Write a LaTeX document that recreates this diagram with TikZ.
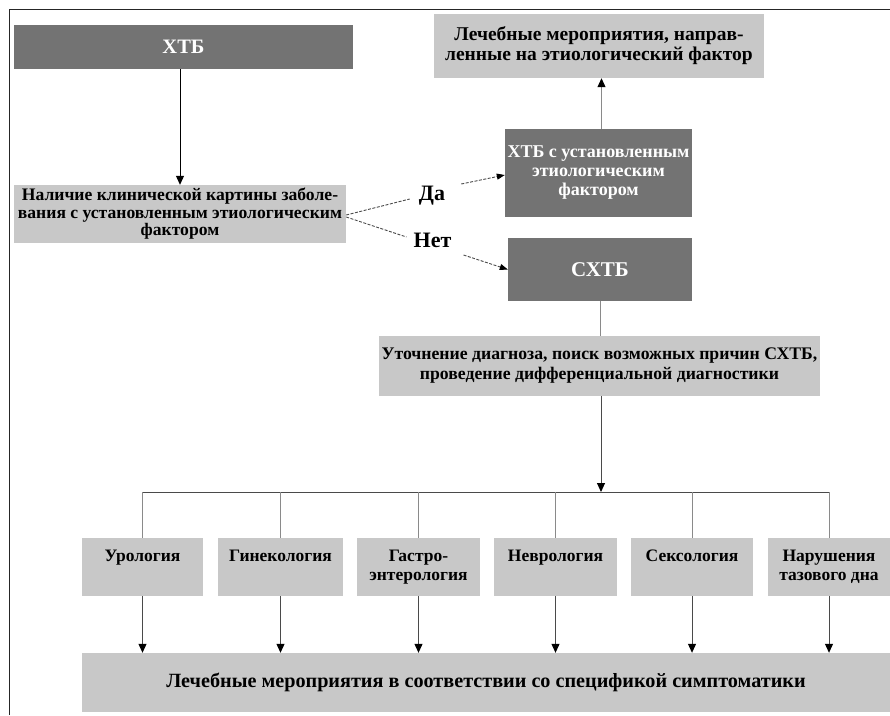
\documentclass[tikz,border=0pt]{standalone}
\usepackage{fontspec}
\setmainfont{Liberation Serif}
\usetikzlibrary{arrows.meta}
\definecolor{dk}{HTML}{737373}
\definecolor{lt}{HTML}{C8C8C8}
\definecolor{ln}{HTML}{4A4A4A}
\definecolor{lg}{HTML}{8A8A8A}
\newcommand{\fs}[2]{\fontsize{#1}{#2}\selectfont\bfseries}
\begin{document}
\begin{tikzpicture}[x=1pt,y=-1pt,
 box/.style={rectangle, inner sep=0pt, align=center, font=\fs{17.5}{19.5}},
 darkbox/.style={box, fill=dk, text=white},
 lightbox/.style={box, fill=lt, text=black},
 lab/.style={inner sep=2pt, font=\fs{22}{24}},
 conn/.style={draw=ln, line width=1pt},
 arr/.style={conn, -{Triangle[length=9pt,width=8pt,color=black]}},
 dsh/.style={draw=ln, line width=0.9pt, dash pattern=on 3pt off 1.5pt},
 dsharr/.style={dsh, -{Triangle[length=8pt,width=6pt,color=black]}},
]
\useasboundingbox (0,0) rectangle (890,715);
\draw[line width=1pt, draw=black!85] (9,715) -- (9,9) -- (890,9);

\node[darkbox, minimum width=339pt, minimum height=44pt, font=\fs{20.5}{22}] (xtb) at (183.5,47) {ХТБ};
\node[lightbox, minimum width=330pt, minimum height=64pt, font=\fs{19.5}{20}] (top) at (599,46) {Лечебные мероприятия, направ-\\ленные на этиологический фактор};
\node[darkbox, minimum width=187pt, minimum height=88pt, font=\fs{18}{19}] (xtbs) at (598.5,173) {ХТБ с установленным\\этиологическим\\фактором};
\node[lightbox, minimum width=332pt, minimum height=58pt, font=\fs{17.6}{17.5}] (nal) at (180,214) {Наличие клинической картины заболе-\\вания с установленным этиологическим\\фактором};
\node[darkbox, minimum width=184pt, minimum height=63pt, font=\fs{21}{22}] (sxtb) at (600,269.5) {СХТБ};
\node[lightbox, minimum width=441pt, minimum height=60pt, font=\fs{17.7}{20}] (ut) at (599.5,366) {Уточнение диагноза, поиск возможных причин СХТБ,\\проведение дифференциальной диагностики};

\node[lab] (da) at (432,196) {Да};
\node[lab] (net) at (432.5,240) {Нет};

\node[lightbox, minimum width=121pt, minimum height=58pt] (uro) at (142.5,567) {\strut Урология\\\strut};
\node[lightbox, minimum width=125pt, minimum height=58pt] (gin) at (280.5,567) {\strut Гинекология\\\strut};
\node[lightbox, minimum width=123pt, minimum height=58pt] (gas) at (418.5,567) {\strut Гастро-\\\strut энтерология};
\node[lightbox, minimum width=123pt, minimum height=58pt] (nev) at (555.5,567) {\strut Неврология\\\strut};
\node[lightbox, minimum width=122pt, minimum height=58pt] (sex) at (692,567) {\strut Сексология\\\strut};
\node[lightbox, minimum width=122pt, minimum height=58pt] (nar) at (829,567) {\strut Нарушения\\\strut тазового дна};
\node[lightbox, minimum width=808pt, minimum height=59pt, font=\fs{20.2}{22}] (bot) at (486,682.5) {Лечебные мероприятия в соответствии со спецификой симптоматики};

\coordinate (bus) at (601,492);

% connectors
\draw[arr, draw=black] (nal.north |- xtb.south) -- (nal.north);
\draw[arr, draw=lg] ([xshift=3pt]xtbs.north) -- ([xshift=3pt]xtbs.north |- top.south);
\draw[conn, draw=lg] (sxtb.south) -- (sxtb.south |- ut.north);
\draw[arr] (bus |- ut.south) -- (bus);
\draw[conn] (uro.north |- bus) -- (nar.north |- bus);
\foreach \n in {uro,gin,gas,nev,sex,nar}{
  \draw[conn, draw=lg] (\n.north |- bus) -- (\n.north);
  \draw[arr] (\n.south) -- (\n.south |- bot.north);
}

% dashed decision lines
\draw[dsh] ([yshift=-1pt]nal.east) -- ([shift={(-7pt,-3pt)}]da.west);
\draw[dsharr] ([shift={(14pt,12pt)}]da.east) -- ([yshift=-2pt]xtbs.west);
\draw[dsh] ([yshift=-3pt]nal.east) -- ([shift={(-5pt,3pt)}]net.west);
\draw[dsharr] ([shift={(10pt,-15pt)}]net.east) -- (sxtb.west);
\end{tikzpicture}
\end{document}
